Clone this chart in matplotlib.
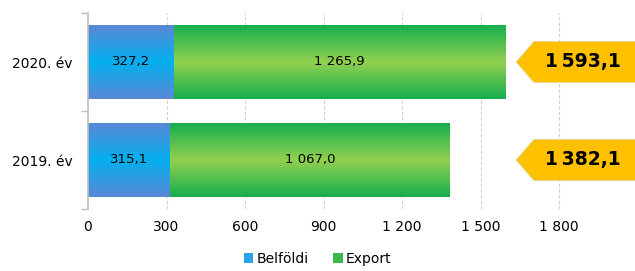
import numpy as np
import matplotlib
matplotlib.use("Agg")
import matplotlib.pyplot as plt
from matplotlib.patches import Polygon, Patch
from matplotlib.colors import LinearSegmentedColormap

categories = ["2019. év", "2020. év"]
belfoldi = [315.1, 327.2]
export = [1067.0, 1265.9]
totals = [1382.1, 1593.1]
xticks = [0, 300, 600, 900, 1200, 1500, 1800]
xticklabels = ["0", "300", "600", "900", "1 200", "1 500", "1 800"]

def fmt(v, sep=" "):
    s = f"{v:,.1f}".replace(",", "#").replace(".", ",").replace("#", sep)
    return s

plt.rcParams['font.family'] = ['DejaVu Sans']
fig = plt.figure(figsize=(6.35, 2.71), dpi=100)
ax = fig.add_axes([88/635, 1-209/271, 547/635, 196/271])
ax.set_xlim(0, 2090)
ax.set_ylim(-0.5, 1.5)

blue_cmap = LinearSegmentedColormap.from_list("b", ["#5A88D4", "#04B0F0", "#5A88D4"])
green_cmap = LinearSegmentedColormap.from_list("g", ["#16AE4E", "#92D050", "#16AE4E"])
grad = np.linspace(0, 1, 256).reshape(-1, 1)

h = 0.755
y = np.arange(len(categories))
b1 = ax.barh(y, belfoldi, height=h, color="none", zorder=2)
b2 = ax.barh(y, export, left=belfoldi, height=h, color="none", zorder=2)
for bars, cmap in ((b1, blue_cmap), (b2, green_cmap)):
    for p in bars:
        x0, y0 = p.get_x(), p.get_y()
        im = ax.imshow(grad, cmap=cmap, aspect="auto",
                       extent=(x0, x0 + p.get_width(), y0, y0 + p.get_height()),
                       origin="lower", zorder=2, interpolation="bilinear")
        im.set_clip_path(p)

for i in range(len(categories)):
    ax.text(belfoldi[i] / 2, y[i], fmt(belfoldi[i]), ha="center", va="center", fontsize=9.5, zorder=3)
    ax.text(belfoldi[i] + export[i] / 2, y[i], fmt(export[i]), ha="center", va="center", fontsize=9.5, zorder=3)
    tip = 1636
    body = 1704
    hh = 0.21
    poly = Polygon([(tip, y[i]), (body, y[i] + hh), (2200, y[i] + hh), (2200, y[i] - hh), (body, y[i] - hh)],
                   closed=True, facecolor="#FFC000", edgecolor="#E6D58A", linewidth=0.6,
                   zorder=3, clip_on=False)
    ax.add_patch(poly)
    ax.text(1892, y[i], fmt(totals[i], "\u2009"), ha="center", va="center", fontsize=13.5,
            fontweight="bold", zorder=4)

ax.set_xticks(xticks)
ax.set_xticklabels(xticklabels, fontsize=10)
ax.set_yticks(y)
ax.set_yticklabels(categories, fontsize=10)
ax.set_yticks([-0.5, 0.5, 1.5], minor=True)
ax.tick_params(axis="y", which="major", length=0, pad=11)
ax.tick_params(axis="y", which="minor", length=5, color="#BFBFBF", width=1)
ax.tick_params(axis="x", length=0, pad=8)

for sp in ["top", "right", "bottom"]:
    ax.spines[sp].set_visible(False)
ax.spines["left"].set_color("#BFBFBF")
ax.spines["left"].set_linewidth(1.2)

for xt in xticks[1:]:
    ax.axvline(xt, color="#D0D0D0", linestyle=(0, (3, 2)), linewidth=0.8, zorder=1)

handles = [Patch(facecolor="#2EA0EE", label="Belföldi"), Patch(facecolor="#3DB84E", label="Export")]
fig.legend(handles=handles, loc="center", bbox_to_anchor=(0.5, 1 - 259/271), ncol=2,
           frameon=False, fontsize=10, handlelength=0.7, handleheight=0.7,
           handletextpad=0.2, columnspacing=1.8)

fig.savefig("out.png", dpi=100)
